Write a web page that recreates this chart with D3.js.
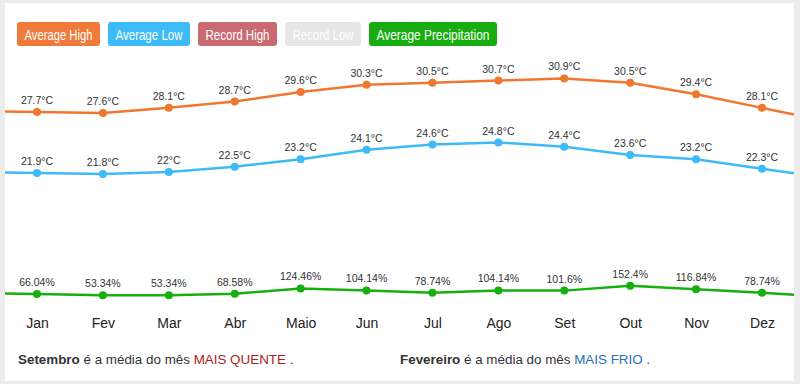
<!DOCTYPE html>
<html>
<head>
<meta charset="utf-8">
<script src="https://cdn.jsdelivr.net/npm/d3@7"></script>
<style>
  body { margin: 0; background: #ececec; }
  svg { display: block; font-family: "Helvetica Neue", Helvetica, Arial, "Liberation Sans", sans-serif; }
</style>
</head>
<body>
<div class="displayArea"></div>
<script>
var width = 800, height = 384;

var months = ["Jan", "Fev", "Mar", "Abr", "Maio", "Jun", "Jul", "Ago", "Set", "Out", "Nov", "Dez"];
var avgHigh = [27.7, 27.6, 28.1, 28.7, 29.6, 30.3, 30.5, 30.7, 30.9, 30.5, 29.4, 28.1];
var avgLow = [21.9, 21.8, 22, 22.5, 23.2, 24.1, 24.6, 24.8, 24.4, 23.6, 23.2, 22.3];
var precip = [66.04, 53.34, 53.34, 68.58, 124.46, 104.14, 78.74, 104.14, 101.6, 152.4, 116.84, 78.74];

var legendNames = ["Average High", "Average Low", "Record High", "Record Low", "Average Precipitation"];
var legendColors = ["#ef7a3a", "#3dbbf8", "#c96a70", "#e6e6e6", "#17ad10"];

var panel = { x: 5, y: 3, w: 789, h: 378 };

var svg = d3.select(".displayArea")
    .append("svg")
    .attr("width", width)
    .attr("height", height);

svg.append("rect") // white card
    .attr("x", panel.x).attr("y", panel.y)
    .attr("width", panel.w).attr("height", panel.h)
    .attr("fill", "#fff");

svg.append("clipPath").attr("id", "clip")
    .append("rect")
    .attr("x", panel.x).attr("y", panel.y)
    .attr("width", panel.w).attr("height", panel.h);

// legend buttons
var legendWidths = [83, 82, 79, 76, 128];
var lx = 17;
legendNames.forEach(function (name, i) {
    var g = svg.append("g").attr("transform", "translate(" + lx + ",22)");
    g.append("rect")
        .attr("width", legendWidths[i]).attr("height", 24)
        .attr("rx", 3)
        .attr("fill", legendColors[i]);
    g.append("text")
        .attr("x", legendWidths[i] / 2).attr("y", 17.5)
        .attr("text-anchor", "middle")
        .attr("fill", "#fff")
        .attr("font-size", 14.5)
        .attr("textLength", legendWidths[i] - 15) // squeeze to fit like the narrower original font
        .attr("lengthAdjust", "spacingAndGlyphs")
        .text(name);
    lx += legendWidths[i] + 8;
});

var xScale = d3.scalePoint()
    .domain(months)
    .range([37, 762]);

var yTemp = d3.scaleLinear() // shared for both temperature series
    .domain([20, 32])
    .range([192.9, 66.9]);

var yPrecip = d3.scaleLinear()
    .domain([53.34, 152.4])
    .range([295.3, 285.7]);

var xAxis = d3.axisBottom(xScale).tickSize(0).tickPadding(0);
var axisG = svg.append("g")
    .attr("transform", "translate(0,318)")
    .call(xAxis);
axisG.select(".domain").remove();
axisG.selectAll("text")
    .attr("font-size", 14)
    .attr("fill", "#222")
    .attr("font-family", null);

function drawSeries(values, yScale, color, fmt) {
    var pts = values.map(function (d, i) { return [xScale(months[i]), yScale(d)]; });
    // extend the first and last segments out to the card edges
    var n = pts.length;
    var s0 = (pts[1][1] - pts[0][1]) / (pts[1][0] - pts[0][0]);
    var s1 = (pts[n - 1][1] - pts[n - 2][1]) / (pts[n - 1][0] - pts[n - 2][0]);
    var left = [panel.x, pts[0][1] - s0 * (pts[0][0] - panel.x)];
    var right = [panel.x + panel.w, pts[n - 1][1] + s1 * (panel.x + panel.w - pts[n - 1][0])];
    var linePts = [left].concat(pts, [right]);

    svg.append("path")
        .attr("clip-path", "url(#clip)")
        .attr("d", d3.line()(linePts))
        .attr("fill", "none")
        .attr("stroke", color)
        .attr("stroke-width", 2.5);

    var g = svg.selectAll(null)
        .data(values)
        .enter()
        .append("g");

    g.append("circle")
        .attr("cx", function (d, i) { return xScale(months[i]); })
        .attr("cy", function (d) { return yScale(d); })
        .attr("r", 4)
        .attr("fill", color);

    g.append("text")
        .attr("x", function (d, i) { return xScale(months[i]); })
        .attr("y", function (d) { return yScale(d) - 8; })
        .attr("text-anchor", "middle")
        .attr("font-size", 10.5)
        .attr("fill", "#333")
        .text(fmt);
}

drawSeries(avgHigh, yTemp, "#f0772f", function (d) { return d + "°C"; });
drawSeries(avgLow, yTemp, "#3dbaf7", function (d) { return d + "°C"; });
drawSeries(precip, yPrecip, "#16b00e", function (d) { return d + "%"; });

// footer notes
var note1 = svg.append("text").attr("x", 18).attr("y", 364).attr("font-size", 13.4).attr("fill", "#333");
note1.append("tspan").attr("font-weight", "bold").text("Setembro");
note1.append("tspan").text(" é a média do mês ");
note1.append("tspan").attr("fill", "#a51d1d").text("MAIS QUENTE");
note1.append("tspan").text(" .");

var note2 = svg.append("text").attr("x", 400).attr("y", 364).attr("font-size", 13.4).attr("fill", "#333");
note2.append("tspan").attr("font-weight", "bold").text("Fevereiro");
note2.append("tspan").text(" é a média do mês ");
note2.append("tspan").attr("fill", "#2a6fb8").text("MAIS FRIO");
note2.append("tspan").text(" .");
</script>
</body>
</html>
